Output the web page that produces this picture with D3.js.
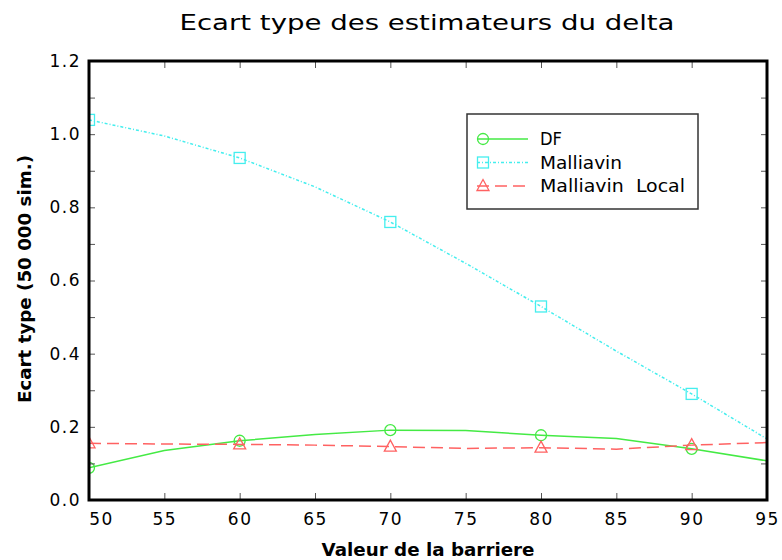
<!DOCTYPE html>
<html>
<head>
<meta charset="utf-8">
<script src="https://cdn.jsdelivr.net/npm/d3@7"></script>
<style>
  html, body { margin: 0; padding: 0; background: #fff; }
  svg { display: block; }
  text { font-family: "DejaVu Sans", sans-serif; fill: #000; }
</style>
</head>
<body>
<svg id="chart" width="782" height="560"></svg>
<script>
// ---- data ----
const barrier = [50, 55, 60, 65, 70, 75, 80, 85, 90, 95];
const dfValues = [0.088, 0.135, 0.162, 0.179, 0.191, 0.190, 0.177, 0.168, 0.140, 0.107];
const malliavinValues = [1.039, 0.995, 0.935, 0.856, 0.760, 0.647, 0.529, 0.407, 0.290, 0.167];
const localValues = [0.155, 0.153, 0.152, 0.150, 0.146, 0.141, 0.143, 0.139, 0.150, 0.157];
const markerBarriers = [50, 60, 70, 80, 90];
const yMajorTicks = [0, 0.2, 0.4, 0.6, 0.8, 1.0, 1.2];
const yMinorTicks = [0, 0.1, 0.2, 0.3, 0.4, 0.5, 0.6, 0.7, 0.8, 0.9, 1.0, 1.1, 1.2];
const seriesNames = ["DF", "Malliavin", "Malliavin  Local"];
const titleText = "Ecart type des estimateurs du delta";
const xLabelText = "Valeur de la barriere";
const yLabelText = "Ecart type (50 000 sim.)";

// ---- layout ----
const svg = d3.select("#chart");
const m = { left: 89, top: 61, right: 15, bottom: 60 };
const W = 782, H = 560;
const iw = W - m.left - m.right; // 678
const ih = H - m.top - m.bottom; // 439

const x = d3.scaleLinear().domain([50, 95]).range([0, iw]);
const y = d3.scaleLinear().domain([0, 1.2]).range([ih, 0]);

const g = svg.append("g").attr("transform", `translate(${m.left},${m.top})`);

svg.append("defs").append("clipPath").attr("id", "clip")
  .append("rect").attr("x", 0).attr("y", 0).attr("width", iw).attr("height", ih);

const series = [
  { name: seriesNames[0], values: dfValues, color: "#44ea44", dash: null, marker: "circle", tl: 22 },
  { name: seriesNames[1], values: malliavinValues, color: "#44eeee", dash: "3,2,1,2", marker: "square", tl: 82 },
  { name: seriesNames[2], values: localValues, color: "#ff6262", dash: "12,6", marker: "triangle", tl: 145 }
];

function drawMarker(sel, type, color) {
  if (type === "circle") {
    sel.append("circle").attr("r", 5.5).attr("fill", "none").attr("stroke", color).attr("stroke-width", 1.3);
  } else if (type === "square") {
    sel.append("rect").attr("x", -5.5).attr("y", -5.5).attr("width", 11).attr("height", 11)
      .attr("fill", "none").attr("stroke", color).attr("stroke-width", 1.3);
  } else {
    sel.append("path").attr("d", "M0,-6.5L6,4.5L-6,4.5Z").attr("fill", "none")
      .attr("stroke", color).attr("stroke-width", 1.3);
  }
}

const plot = g.append("g").attr("clip-path", "url(#clip)");
const line = d3.line().x((d, i) => x(barrier[i])).y(d => y(d));

series.forEach(s => {
  plot.append("path").datum(s.values)
    .attr("d", line)
    .attr("fill", "none")
    .attr("stroke", s.color)
    .attr("stroke-width", 1.5)
    .attr("stroke-dasharray", s.dash);
  markerBarriers.forEach(b => {
    const i = barrier.indexOf(b);
    const mg = plot.append("g").attr("transform", `translate(${x(b)},${y(s.values[i])})`);
    drawMarker(mg, s.marker, s.color);
  });
});

// ---- axes (inward ticks on all sides) ----
function styleAxis(a) {
  a.select(".domain").remove();
  a.selectAll(".tick line").attr("stroke", "#555").attr("stroke-width", 1);
  a.selectAll(".tick text").style("font-size", "17px").style("letter-spacing", "1.5px").attr("fill", "#000");
}

const xAxis = g.append("g").attr("transform", `translate(0,${ih})`)
  .call(d3.axisBottom(x).tickValues(barrier).tickSizeInner(-7).tickSizeOuter(0).tickPadding(13).tickFormat(d3.format("d")));
styleAxis(xAxis);
xAxis.selectAll(".tick text").filter(d => d === 50).attr("dx", 12);

const xTop = g.append("g")
  .call(d3.axisTop(x).tickValues(barrier).tickSizeInner(-7).tickSizeOuter(0).tickFormat(""));
styleAxis(xTop);

const yMinor = g.append("g")
  .call(d3.axisLeft(y).tickValues(yMinorTicks).tickSizeInner(-6).tickSizeOuter(0).tickFormat(""));
styleAxis(yMinor);

const yAxis = g.append("g")
  .call(d3.axisLeft(y).tickValues(yMajorTicks).tickSizeInner(0).tickSizeOuter(0).tickPadding(8).tickFormat(d3.format(".1f")));
styleAxis(yAxis);

const yRight = g.append("g").attr("transform", `translate(${iw},0)`)
  .call(d3.axisRight(y).tickValues(yMinorTicks).tickSizeInner(-6).tickSizeOuter(0).tickFormat(""));
styleAxis(yRight);

// frame
g.append("rect").attr("x", 0).attr("y", 0).attr("width", iw).attr("height", ih)
  .attr("fill", "none").attr("stroke", "#000").attr("stroke-width", 3);

// ---- legend ----
const lg = svg.append("g").attr("transform", "translate(467,114)");
lg.append("rect").attr("x", 0).attr("y", 0).attr("width", 231).attr("height", 95)
  .attr("fill", "#fff").attr("stroke", "#333").attr("stroke-width", 1.5);
series.forEach((s, i) => {
  const yy = 25 + i * 23.5;
  lg.append("line").attr("x1", 10).attr("x2", 61).attr("y1", yy).attr("y2", yy)
    .attr("stroke", s.color).attr("stroke-width", 1.5).attr("stroke-dasharray", s.dash);
  const mg = lg.append("g").attr("transform", `translate(16,${yy})`);
  drawMarker(mg, s.marker, s.color);
  lg.append("text").attr("x", 73).attr("y", yy + 6).style("font-size", "17px")
    .style("white-space", "pre").attr("xml:space", "preserve")
    .attr("textLength", s.tl).attr("lengthAdjust", "spacingAndGlyphs").text(s.name);
});

// ---- titles ----
svg.append("text").attr("x", 427).attr("y", 30).attr("text-anchor", "middle")
  .style("font-size", "22px").attr("textLength", 495).attr("lengthAdjust", "spacingAndGlyphs")
  .text(titleText);

svg.append("text").attr("x", 428).attr("y", 556).attr("text-anchor", "middle")
  .style("font-size", "18px").style("font-weight", "bold")
  .attr("textLength", 213).attr("lengthAdjust", "spacingAndGlyphs")
  .text(xLabelText);

svg.append("text").attr("transform", "translate(31,279) rotate(-90)").attr("text-anchor", "middle")
  .style("font-size", "17px").style("font-weight", "bold")
  .attr("textLength", 248).attr("lengthAdjust", "spacingAndGlyphs")
  .text(yLabelText);
</script>
</body>
</html>
